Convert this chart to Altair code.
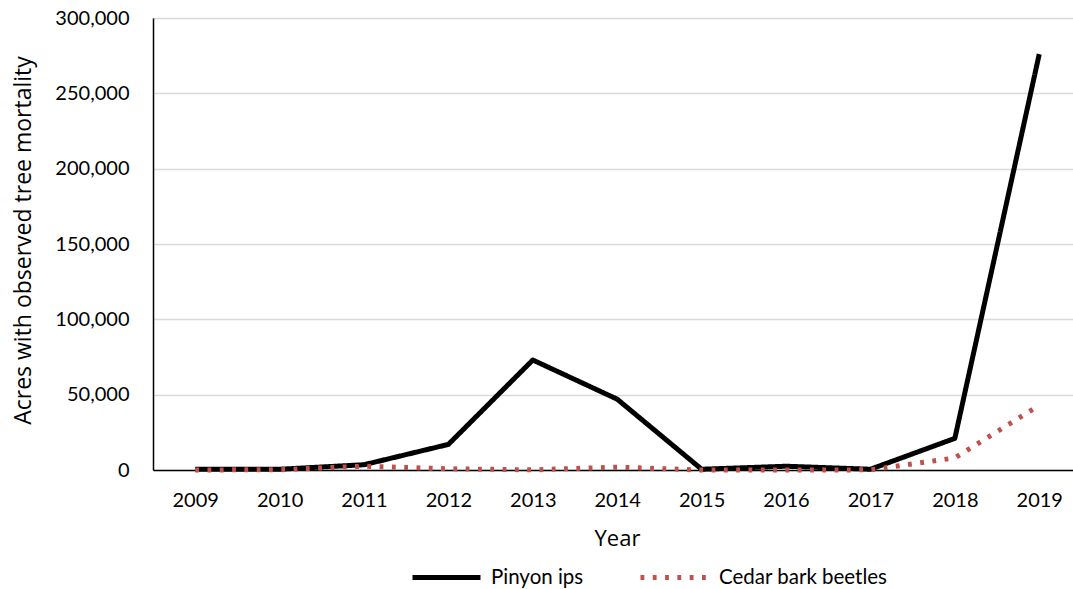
import altair as alt
import pandas as pd

years = [2009, 2010, 2011, 2012, 2013, 2014, 2015, 2016, 2017, 2018, 2019]
pinyon_ips = [500, 500, 3500, 17000, 73000, 47000, 500, 2500, 500, 21000, 276000]
cedar_bark = [0, 200, 2500, 800, 100, 1900, 0, 0, 100, 8000, 43000]
series_names = ["Pinyon ips", "Cedar bark beetles"]
y_ticks = [0, 50000, 100000, 150000, 200000, 250000, 300000]

rows = []
for y, v in zip(years, pinyon_ips):
    rows.append({"Year": y, "Acres": v, "Series": series_names[0]})
for y, v in zip(years, cedar_bark):
    rows.append({"Year": y, "Acres": v, "Series": series_names[1]})
df = pd.DataFrame(rows)

FONT = "Lato"
TFONT = "Open Sans"

chart = alt.Chart(df).mark_line(strokeWidth=5, strokeJoin="round", strokeCap="butt").encode(
    x=alt.X("Year:Q",
            scale=alt.Scale(domain=[2008.5, 2019.4], nice=False, zero=False),
            axis=alt.Axis(values=years, format="d", grid=False, ticks=False,
                          domainColor="#000000", domainWidth=1.5,
                          labelFontSize=20, labelColor="#000000", labelPadding=20,
                          labelFont=FONT,
                          title="Year", titleFontSize=22, titleFont=TFONT,
                          titleFontWeight="normal", titleColor="#000000",
                          titleX=464, titleY=58, titleAnchor="middle")),
    y=alt.Y("Acres:Q",
            scale=alt.Scale(domain=[0, 300000], nice=False),
            axis=alt.Axis(values=y_ticks, format=",d", ticks=False,
                          gridColor="#d9d9d9", gridWidth=1.5,
                          domainColor="#000000", domainWidth=1.5,
                          labelFontSize=20, labelColor="#000000", labelPadding=24,
                          labelFont=FONT,
                          title="Acres with observed tree mortality",
                          titleFontSize=23, titleFont=TFONT, titleFontWeight="normal",
                          titleColor="#000000", titleX=-130, titleY=222,
                          titleAngle=-90, titleBaseline="middle", titleAlign="center")),
    color=alt.Color("Series:N",
                    scale=alt.Scale(domain=series_names, range=["#000000", "#C0504D"]),
                    sort=series_names,
                    legend=alt.Legend(title=None)),
    strokeDash=alt.StrokeDash("Series:N",
                              scale=alt.Scale(domain=series_names, range=[[1, 0], [3.8, 8.5]]),
                              sort=series_names,
                              legend=alt.Legend(title=None)),
).properties(
    width=920,
    height=452,
    autosize=alt.AutoSizeParams(type="none"),
    padding={"left": 153, "top": 18, "right": 0, "bottom": 119},
).configure_view(
    stroke=None
).configure_legend(
    orient="none",
    legendX=257,
    legendY=523,
    direction="horizontal",
    symbolType="stroke",
    symbolSize=4624,
    symbolStrokeWidth=5,
    labelFontSize=20.5,
    labelFont=FONT,
    labelColor="#000000",
    labelOffset=8,
    columnPadding=46,
    labelLimit=400,
)

chart.save("out.html", embed_options={"renderer": "svg", "actions": False})
